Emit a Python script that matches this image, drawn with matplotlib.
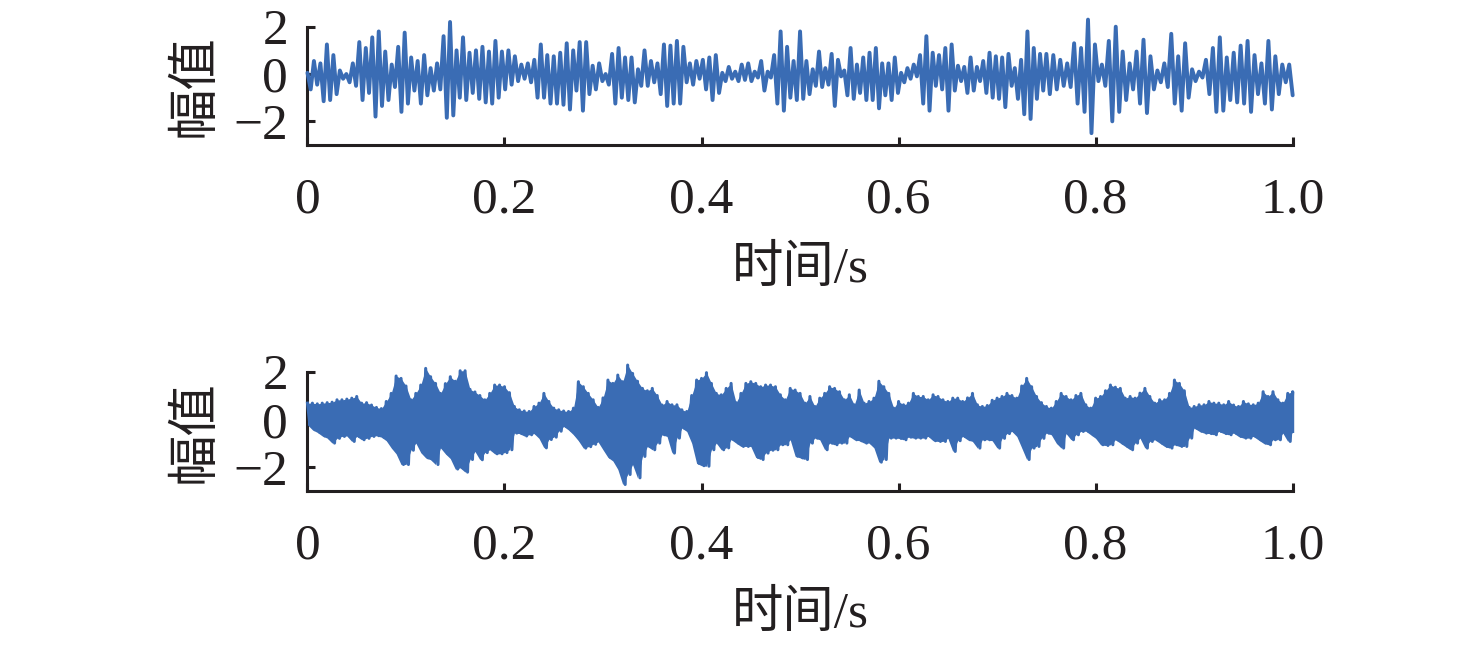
import numpy as np
import matplotlib
matplotlib.use("Agg")
import matplotlib.pyplot as plt

# ---------------------------------------------------------------------------
# data (amplitude vs time, seconds)
# ---------------------------------------------------------------------------

# upper panel: successive peaks / troughs, one list per quarter second
top_a = [0.05, -0.65, 0.55, -0.45, 0.45, -1.15, 1.25, -1.1, 0.8, -0.85,
         0.15, -0.2, 0.0, -0.35, 0.45, -0.5, 1.35, -1.1, 1.1, -0.8,
         1.55, -1.8, 1.8, -1.35, 0.95, -1.1, 0.4, -0.55, 1.15, -1.6,
         1.75, -1.25, 0.7, -0.7, 0.55, -1.25, 0.8, -0.9, 0.25, -0.7,
         0.45, -0.65, 1.6, -1.85, 2.2, -1.75, 1.0, -1.0, 1.55, -1.1,
         0.9, -0.8, 1.0, -1.05, 1.15, -1.2, 0.95, -1.25, 1.4, -1.0,
         0.95, -0.65, 1.0, -0.45, 0.75, -0.3, 0.4, -0.2, 0.45, -0.35,
         0.6, -1.0, 1.25, -1.0, 0.8, -1.25]
top_b = [0.75, -1.25, 0.9, -1.3, 1.3, -1.5, 1.0, -0.7, 1.35, -1.55,
         1.35, -0.85, 0.35, -0.65, 0.45, -0.3, 0.0, -0.45, 0.85, -1.25,
         1.1, -1.0, 0.7, -1.1, 0.7, -1.2, 0.2, -0.5, 1.0, -0.5,
         0.55, -0.35, 0.45, -0.85, 1.25, -1.35, 1.2, -1.25, 1.4, -1.25,
         1.15, -0.35, 0.45, -0.45, 0.55, -0.2, 0.6, -0.65, 0.7, -1.1,
         0.8, -0.8, 0.05, -0.3, 0.3, -0.2, 0.1, -0.3, 0.4, -0.25,
         0.45, -0.3, 0.1, -0.15, 0.55, -0.7, 0.1, -0.15, 0.8, -1.25,
         1.8, -1.55, 1.15, -1.0, 0.55, -1.1]
top_c = [1.8, -1.05, 0.55, -0.85, 0.2, -0.5, 0.95, -0.55, 0.25, -0.45,
         0.85, -1.35, 0.6, -0.1, 0.15, -0.9, 1.1, -1.05, 0.4, -0.8,
         0.7, -1.1, 0.9, -1.1, 1.1, -1.45, 0.45, -0.9, 0.45, -1.1,
         0.7, -0.8, 0.05, -0.35, 0.25, -0.2, 0.4, -0.1, 0.8, -1.25,
         1.6, -1.55, 0.9, -0.5, 0.8, -0.65, 1.1, -1.55, 1.25, -0.7,
         0.35, -0.3, 0.3, -0.8, 0.7, -0.7, 0.3, -0.3, 0.55, -0.8,
         0.9, -1.0, 0.75, -1.05, 0.7, -1.4, 0.85, -0.5, 0.25, -1.05,
         0.6, -1.7, 1.8, -1.9, 1.1, -1.05, 0.85, -0.7]
top_d = [0.85, -0.85, 0.8, -0.65, 0.6, -0.5, 0.45, -0.55, 1.3, -1.25,
         1.1, -1.6, 2.3, -2.5, 1.25, -0.3, 0.4, -0.5, 1.4, -2.0,
         2.0, -1.6, 0.95, -1.1, 0.45, -0.65, 0.95, -1.25, 1.45, -1.65,
         0.75, -0.65, 0.15, -0.35, 0.45, -0.55, 1.7, -1.25, 0.75, -1.55,
         1.3, -1.0, 0.2, -0.3, 0.1, -0.15, 0.6, -0.85, 1.1, -1.6,
         1.55, -1.55, 0.7, -1.1, 0.9, -1.2, 1.2, -1.25, 1.4, -1.6,
         0.8, -0.85, 0.45, -1.25, 1.4, -1.5, 0.75, -0.85, 0.4, -0.35,
         0.4, -0.9]
top_segments = [top_a, top_b, top_c, top_d]
top_edges = [0.0, 0.25, 0.5, 0.75, 1.0]

# lower panel: dense signal, upper / lower envelope every 5 ms
bot_upper = [
    0.68, 0.68, 0.65, 0.68, 0.70, 0.72, 0.82, 0.82, 0.85, 0.89,
    0.96, 0.68, 0.70, 0.60, 0.50, 0.45, 0.75, 1.09, 1.82, 1.72,
    1.40, 0.82, 1.09, 1.44, 2.14, 1.79, 1.51, 1.09, 1.50, 1.79,
    1.60, 2.04, 2.04, 1.26, 1.15, 1.00, 0.82, 1.09, 1.44, 1.44,
    1.37, 1.12, 0.54, 0.40, 0.35, 0.33, 0.54, 0.68, 1.09, 0.75,
    0.47, 0.40, 0.35, 0.33, 0.47, 1.58, 1.37, 1.09, 0.82, 0.50,
    0.90, 1.65, 1.51, 1.86, 1.58, 2.28, 1.93, 1.60, 1.30, 1.20,
    1.30, 1.00, 0.60, 0.75, 0.61, 0.61, 0.40, 0.33, 1.00, 1.65,
    1.72, 1.96, 1.51, 1.09, 1.03, 1.30, 1.51, 0.70, 1.09, 1.51,
    1.58, 1.51, 1.37, 1.44, 1.44, 1.37, 1.03, 0.82, 1.30, 1.23,
    1.09, 0.68, 0.96, 0.54, 0.89, 1.09, 1.37, 1.30, 1.16, 0.82,
    1.03, 0.61, 1.23, 0.68, 0.75, 0.89, 1.60, 1.37, 1.09, 0.47,
    0.75, 0.61, 0.68, 1.09, 0.96, 0.96, 0.82, 1.03, 0.96, 0.82,
    0.75, 0.89, 0.89, 0.75, 0.90, 1.09, 0.61, 0.54, 0.58, 0.80,
    0.89, 0.96, 1.09, 1.00, 0.89, 1.40, 1.72, 1.37, 0.96, 0.70,
    0.54, 0.47, 0.75, 1.09, 0.96, 0.82, 1.00, 1.09, 0.61, 0.47,
    0.89, 0.96, 1.20, 1.44, 1.35, 1.30, 0.89, 0.96, 0.89, 1.10,
    1.30, 0.96, 0.68, 0.82, 0.82, 1.09, 1.65, 1.51, 1.20, 0.50,
    0.54, 0.61, 0.61, 0.75, 0.68, 0.68, 0.61, 0.75, 0.60, 0.54,
    0.75, 0.65, 0.61, 0.68, 1.16, 0.96, 1.16, 0.82, 0.68, 1.09,
    1.16]
bot_lower = [
    -0.23, -0.44, -0.55, -0.70, -0.79, -1.00, -0.80, -0.72, -0.70, -0.93,
    -0.72, -0.86, -0.80, -0.72, -0.69, -0.75, -0.90, -1.20, -1.45, -1.90,
    -1.90, -1.30, -1.00, -1.40, -1.62, -1.70, -1.90, -1.20, -1.45, -1.65,
    -2.09, -2.04, -2.22, -1.69, -1.35, -1.70, -1.40, -1.28, -1.45, -1.45,
    -1.40, -1.28, -0.58, -0.60, -0.70, -0.65, -0.60, -0.80, -1.20, -0.85,
    -0.75, -0.50, -0.30, -0.45, -0.65, -0.90, -1.21, -1.15, -1.05, -0.95,
    -1.28, -1.60, -1.75, -2.10, -2.74, -2.32, -1.90, -2.46, -1.56, -1.14,
    -1.28, -1.00, -0.65, -0.72, -1.42, -0.79, -0.37, -0.51, -1.00, -1.85,
    -1.95, -1.97, -1.28, -1.00, -1.28, -1.20, -0.85, -1.00, -1.14, -1.14,
    -1.14, -1.60, -1.69, -1.42, -1.30, -1.28, -1.07, -1.07, -0.86, -1.55,
    -1.62, -1.69, -1.00, -0.79, -0.86, -1.28, -1.00, -1.07, -1.00, -1.00,
    -0.72, -0.86, -0.90, -1.00, -1.00, -1.20, -1.80, -1.69, -0.79, -0.79,
    -0.80, -0.86, -0.75, -0.79, -0.79, -0.79, -0.72, -0.90, -0.93, -0.93,
    -0.80, -1.35, -0.90, -0.72, -0.86, -0.93, -1.21, -0.86, -0.86, -0.90,
    -1.21, -0.80, -0.60, -0.51, -0.72, -1.20, -1.69, -1.21, -1.14, -0.80,
    -0.58, -0.65, -1.00, -1.21, -0.60, -0.86, -0.65, -0.51, -0.50, -0.65,
    -0.80, -1.07, -1.10, -1.07, -0.86, -1.00, -1.14, -1.28, -1.00, -0.79,
    -1.21, -0.93, -0.86, -1.00, -1.14, -1.21, -1.07, -1.14, -1.14, -0.79,
    -0.37, -0.50, -0.58, -0.60, -0.65, -0.51, -0.60, -0.65, -0.58, -0.72,
    -0.79, -0.79, -0.72, -0.86, -1.00, -1.07, -0.86, -0.86, -0.58, -0.93,
    -0.51]

x_ticks = [0, 0.2, 0.4, 0.6, 0.8, 1.0]
x_ticklabels = ["0", "0.2", "0.4", "0.6", "0.8", "1.0"]
y_ticks = [-2, 0, 2]
x_label = "时间/s"
y_label = "幅值"

LINE = "#3A6CB4"
INK = "#231F20"
NUM_FONT = ["Liberation Serif", "DejaVu Serif"]
TXT_FONT = ["Liberation Serif", "Noto Sans CJK SC", "DejaVu Sans"]
FS = 37

plt.rcParams["font.family"] = NUM_FONT
plt.rcParams["axes.unicode_minus"] = True


def style_axes(ax):
    ax.set_xlim(0, 1.0)
    ax.set_ylim(-3, 2)
    for side in ("top", "right"):
        ax.spines[side].set_visible(False)
    for side in ("left", "bottom"):
        ax.spines[side].set_linewidth(2.2)
        ax.spines[side].set_color(INK)
    ax.set_xticks(x_ticks)
    ax.set_xticklabels(x_ticklabels)
    ax.set_yticks(y_ticks)
    ax.tick_params(direction="in", length=6, width=2.2, color=INK,
                   labelsize=FS, labelcolor=INK)
    ax.tick_params(axis="x", pad=23)
    ax.tick_params(axis="y", pad=14)
    ax.set_xlabel(x_label, fontsize=FS, family=TXT_FONT, color=INK, labelpad=16)
    ax.set_ylabel(y_label, fontsize=FS, family=TXT_FONT, color=INK, labelpad=10)


fig = plt.figure(figsize=(14.76, 6.45), dpi=100)
ax1 = fig.add_axes([0.2083, 0.7752, 0.6675, 0.1834])
ax2 = fig.add_axes([0.2083, 0.2392, 0.6675, 0.1845])

# upper panel
t_top, v_top = [], []
for seg, t0, t1 in zip(top_segments, top_edges[:-1], top_edges[1:]):
    last = t1 == top_edges[-1]
    t_top.append(np.linspace(t0, t1, len(seg), endpoint=last))
    v_top.append(np.asarray(seg))
t_top = np.concatenate(t_top)
v_top = np.concatenate(v_top)
ax1.plot(t_top, v_top, color=LINE, lw=2.8, solid_joinstyle="round",
         solid_capstyle="round", clip_on=False, zorder=3)

# lower panel: swing between the two envelopes, half a step apart
t_bot = np.linspace(0, 1.0, len(bot_upper))
half = 0.5 * (t_bot[1] - t_bot[0])
t_zig = np.column_stack([t_bot, np.minimum(t_bot + half, 1.0)]).ravel()
v_zig = np.column_stack([bot_upper, bot_lower]).ravel()
ax2.fill_between(t_bot, bot_lower, bot_upper, color=LINE, lw=0,
                 clip_on=False, zorder=3)
ax2.plot(t_zig, v_zig, color=LINE, lw=2.2, solid_joinstyle="round",
         clip_on=False, zorder=3)

for ax in (ax1, ax2):
    style_axes(ax)

fig.savefig("out.png", dpi=100)
